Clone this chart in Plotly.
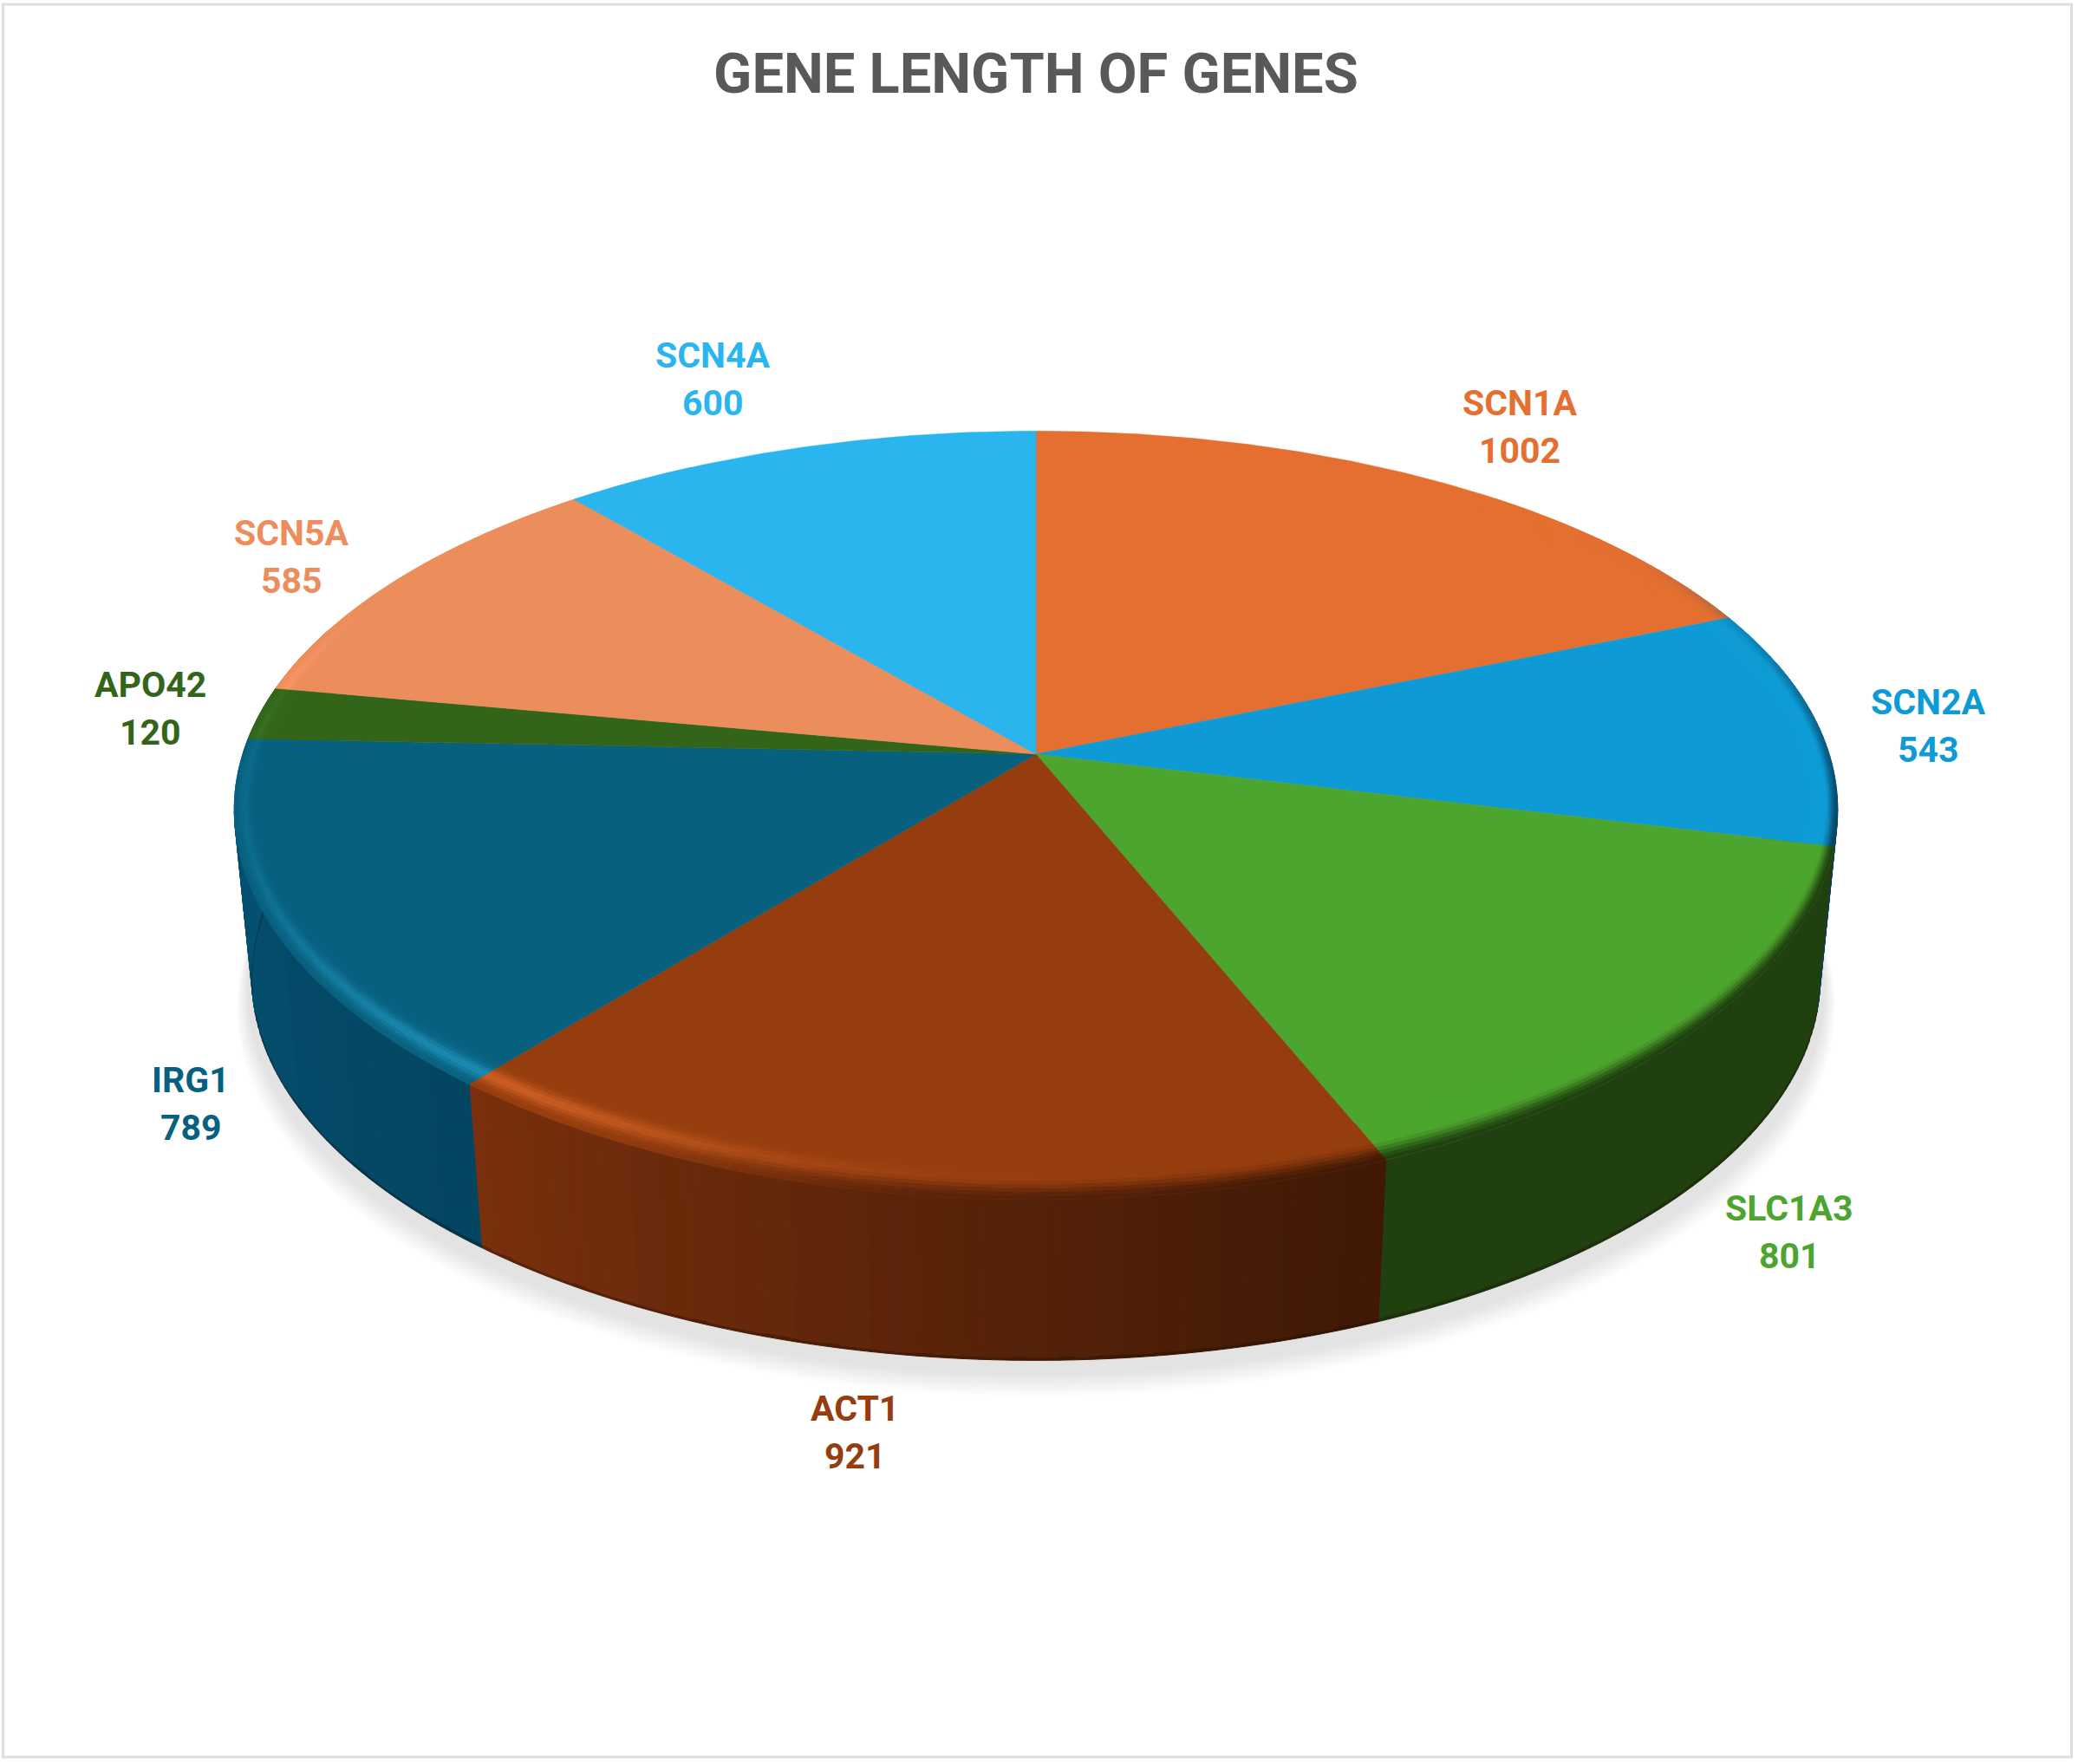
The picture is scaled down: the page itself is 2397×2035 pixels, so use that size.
import math
import plotly.graph_objects as go

# ---- data ----
GENES = ["SCN1A", "SCN2A", "SLC1A3", "ACT1", "IRG1", "APO42", "SCN5A", "SCN4A"]
LENGTHS = [1002, 543, 801, 921, 789, 120, 585, 600]
COLORS = ["#E56F31", "#0E9BD5", "#4CA52E", "#953D0E", "#08607F", "#32651A", "#EC8D5C", "#2BB5EE"]
TITLE = "GENE LENGTH OF GENES"

# ---- styling / layout constants ----
W, H = 2397, 2035
CX, CY = 1195.0, 870.0      # projected pie centre
A, B, C, CXP = 915.0, 432.0, 0.159, 0.145  # perspective of the top disc
S, DY = 0.978, 197.0        # bottom disc scale and drop
SIDE_START = ["#0A5A80", "#0A5A80", "#20410F", "#3F1905", "#044662", "#27501A", "#B0623A", "#1A80AA"]
SIDE_END = ["#0A5A80", "#073F5C", "#20410F", "#7A300D", "#055272", "#27501A", "#B0623A", "#1A80AA"]
LABEL_POS = {"SCN1A": (1753, 492), "SCN2A": (2224, 837), "SLC1A3": (2064, 1421), "ACT1": (986, 1652),
             "IRG1": (220, 1273), "APO42": (173, 817), "SCN5A": (336, 642), "SCN4A": (822, 437)}
LINE_GAP = 55


def hex2rgb(h):
    return tuple(int(h[i:i + 2], 16) for i in (1, 3, 5))


def mix(a, b, t):
    return tuple(a[i] + (b[i] - a[i]) * t for i in range(3))


def ss(e0, e1, v):
    t = max(0.0, min(1.0, (v - e0) / (e1 - e0)))
    return t * t * (3 - 2 * t)


def proj(theta, r=1.0, z=0.0, sc=1.0, extra=0.0):
    """theta in degrees clockwise from the top; z=0 top disc, z=1 bottom disc."""
    t = math.radians(theta)
    X, Y = r * math.sin(t), -r * math.cos(t)
    s = (1 + (S - 1) * z) * sc
    return CX + s * A * X / (1 - CXP * Y), CY + DY * z + extra + s * B * Y / (1 - C * Y)


# slice angle ranges derived from the values
total = sum(LENGTHS)
starts, ends = [], []
acc = 0
for v in LENGTHS:
    starts.append(acc / total * 360)
    acc += v
    ends.append(acc / total * 360)

fig = go.Figure()
groups = {}


def add_poly(color, pts):
    g = groups.setdefault(color, ([], []))
    g[0].extend([p[0] for p in pts] + [pts[0][0], None])
    g[1].extend([p[1] for p in pts] + [pts[0][1], None])


def q(c, n=2):
    return "rgb(%d,%d,%d)" % tuple(min(255, max(0, int(round(x / n) * n))) for x in c)


def side_color(i, th):
    f = (th - starts[i]) / (ends[i] - starts[i])
    return mix(hex2rgb(SIDE_START[i]), hex2rgb(SIDE_END[i]), f)


# soft shadow under the pie
N_SHADOW = 14
for k in range(N_SHADOW):
    f = 1 - k / (N_SHADOW - 1)
    pts = [proj(a, 1.0, 1.0, 1.006 + 0.014 * f, 14 + 18 * f) for a in range(0, 360, 2)]
    fig.add_trace(go.Scatter(x=[p[0] for p in pts], y=[p[1] for p in pts], mode="lines", fill="toself",
                             fillcolor="rgba(0,0,0,0.0085)", line=dict(width=0), hoverinfo="skip"))

# side wall
STEP = 1.0
for i in range(len(GENES)):
    th = starts[i]
    while th < ends[i]:
        th2 = min(th + STEP, ends[i])
        if 75 <= th <= 290:
            c = side_color(i, th)
            a, b = proj(th), proj(th2)
            d, e = proj(th, 1, 0.982), proj(th2, 1, 0.982)
            f, g = proj(th, 1, 1), proj(th2, 1, 1)
            add_poly(q(c), [a, b, e, d])
            add_poly(q(mix(c, (20, 5, 0), 0.3)), [d, e, g, f])
        th = th2
for col, (xs, ys) in groups.items():
    fig.add_trace(go.Scatter(x=xs, y=ys, mode="lines", fill="toself", fillcolor=col,
                             line=dict(color=col, width=1), hoverinfo="skip"))
groups.clear()

# flat top slices
for i, gene in enumerate(GENES):
    n = max(4, int((ends[i] - starts[i]) * 2))
    arc = [proj(starts[i] + (ends[i] - starts[i]) * k / n) for k in range(n + 1)]
    pts = [(CX, CY)] + arc + [(CX, CY)]
    fig.add_trace(go.Scatter(x=[p[0] for p in pts], y=[p[1] for p in pts], mode="lines", fill="toself",
                             fillcolor=COLORS[i], line=dict(color=COLORS[i], width=0.5), name=gene,
                             text=f"{gene}: {LENGTHS[i]}", hoverinfo="text"))


# bevelled rim
def rim_r(th, t):
    Y = -math.cos(math.radians(th))
    w = 0.03 + 0.055 * Y * Y
    return 1 - w * (1 - t)


RINGS = 12
for i in range(len(GENES)):
    base = hex2rgb(COLORS[i])
    th = starts[i]
    while th < ends[i]:
        th2 = min(th + STEP, ends[i])
        if 40 <= th <= 330:
            mid = (th + th2) / 2
            hl = 0.20 * math.exp(-((mid - 218) / 24) ** 2) + 0.06 * ss(195, 225, mid) * (1 - ss(270, 300, mid))
            dk = ss(50, 105, mid) * (1 - ss(185, 215, mid))
            sc = side_color(i, mid)
            for k in range(RINGS):
                t0, t1 = k / RINGS, (k + 1) / RINGS
                t = (t0 + t1) / 2
                p = math.exp(-((t - 0.58) / 0.2) ** 2)
                c = tuple(min(255, v * (1 + hl * p) + 70 * hl * p) for v in base)
                c = mix(c, sc, dk * ss(0.5, 1.0, t))
                pts = [proj(th, rim_r(th, t0)), proj(th2, rim_r(th2, t0)),
                       proj(th2, rim_r(th2, t1)), proj(th, rim_r(th, t1))]
                add_poly(q(c), pts)
        th = th2
for col, (xs, ys) in groups.items():
    fig.add_trace(go.Scatter(x=xs, y=ys, mode="lines", fill="toself", fillcolor=col,
                             line=dict(color=col, width=0.6), hoverinfo="skip"))

# labels: gene name above its value
for i, gene in enumerate(GENES):
    lx, ly = LABEL_POS[gene]
    for txt, yy in ((gene, ly - LINE_GAP / 2), (str(LENGTHS[i]), ly + LINE_GAP / 2)):
        fig.add_annotation(x=lx, y=yy, xref="x", yref="y", showarrow=False, text=f"<b>{txt}</b>",
                           font=dict(family="Roboto", size=41, color=COLORS[i]))

fig.update_layout(
    width=W, height=H, autosize=False, showlegend=False,
    margin=dict(l=0, r=0, t=0, b=0, pad=0),
    paper_bgcolor="white", plot_bgcolor="white",
    title=dict(text=f"<b>{TITLE}</b>", x=0.4985, y=1 - 84 / H, xanchor="center", yanchor="middle",
               font=dict(family="Roboto", size=65, color="#595959")),
    xaxis=dict(range=[0, W], visible=False, fixedrange=True),
    yaxis=dict(range=[H, 0], visible=False, fixedrange=True),
    shapes=[dict(type="rect", xref="x", yref="y", x0=3.5, y0=5, x1=2389.5, y1=2027,
                 line=dict(color="#DEDEDE", width=3), layer="below")],
)
fig.write_html("out.html", post_script="document.body.style.margin='0';",
               config={"displayModeBar": False})
